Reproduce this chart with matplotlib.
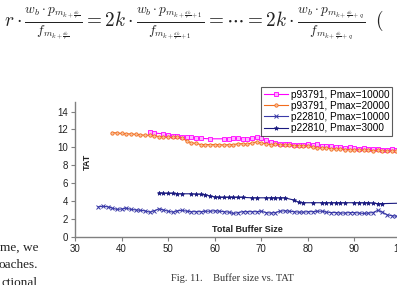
import matplotlib
matplotlib.use("Agg")
import matplotlib.pyplot as plt

# buffer size vs TAT
X_P93791_10000 = [46, 47, 49, 50, 51, 52, 53, 54, 55, 56, 57, 59, 62, 63, 64, 65, 66, 67, 68, 69,
                  70, 71, 72, 73, 74, 75, 76, 77, 78, 79, 80, 81, 82, 83, 84, 85, 86, 87, 88, 89,
                  90, 91, 92, 93, 94, 95, 96, 97, 98, 99, 100]
Y_P93791_10000 = [11.7, 11.6, 11.5, 11.35, 11.3, 11.25, 11.2, 11.1, 11.1, 11.05, 11.0, 10.95, 10.95,
                  10.95, 11.0, 11.0, 10.95, 10.9, 11.0, 11.1, 11.0, 10.8, 10.6, 10.5, 10.4, 10.35,
                  10.35, 10.3, 10.3, 10.3, 10.35, 10.3, 10.35, 10.2, 10.15, 10.1, 10.05, 10.0, 9.95,
                  10.0, 9.9, 9.85, 9.9, 9.85, 9.8, 9.8, 9.75, 9.75, 9.8, 9.75, 9.75]

X_P93791_20000 = list(range(38, 101))
Y_P93791_20000 = [11.65, 11.6, 11.55, 11.5, 11.5, 11.45, 11.4, 11.35, 11.35, 11.3, 11.2, 11.15,
                  11.1, 11.1, 11.1, 11.05, 10.7, 10.5, 10.45, 10.3, 10.3, 10.3, 10.3, 10.3, 10.25,
                  10.3, 10.3, 10.4, 10.4, 10.35, 10.5, 10.6, 10.5, 10.4, 10.3, 10.35, 10.3, 10.25,
                  10.25, 10.2, 10.2, 10.2, 10.1, 10.0, 9.9, 9.95, 9.9, 9.85, 9.8, 9.8, 9.75, 9.75,
                  9.7, 9.7, 9.65, 9.7, 9.6, 9.65, 9.6, 9.55, 9.6, 9.55, 9.55]

X_P22810_10000 = list(range(35, 101))
Y_P22810_10000 = [3.35, 3.4, 3.35, 3.2, 3.05, 3.1, 3.2, 3.05, 3.0, 2.95, 2.9, 2.75, 2.9, 3.1, 3.0,
                  2.85, 2.75, 2.9, 2.95, 2.85, 2.8, 2.8, 2.8, 2.85, 2.85, 2.9, 2.85, 2.8, 2.75, 2.6,
                  2.7, 2.8, 2.8, 2.8, 2.8, 2.85, 2.7, 2.65, 2.7, 2.85, 2.9, 2.85, 2.8, 2.75, 2.75,
                  2.8, 2.8, 2.85, 2.85, 2.75, 2.7, 2.7, 2.65, 2.65, 2.7, 2.7, 2.65, 2.6, 2.65, 2.7,
                  2.95, 2.75, 2.45, 2.35, 2.3, 2.35]

X_P22810_3000 = [48, 49, 50, 51, 52, 53, 55, 56, 57, 58, 59, 60, 61, 62, 63, 64, 65, 66, 68, 69,
                 71, 72, 73, 74, 75, 77, 78, 79, 81, 83, 84, 85, 86, 87, 88, 90, 91, 92, 93, 94,
                 95, 96, 100]
Y_P22810_3000 = [4.9, 4.85, 4.85, 4.85, 4.8, 4.8, 4.8, 4.75, 4.75, 4.7, 4.55, 4.45, 4.4, 4.4, 4.4,
                 4.4, 4.4, 4.4, 4.35, 4.35, 4.35, 4.35, 4.35, 4.35, 4.35, 4.1, 3.85, 3.8, 3.8, 3.8,
                 3.8, 3.8, 3.8, 3.8, 3.8, 3.8, 3.8, 3.8, 3.8, 3.75, 3.7, 3.7, 3.75]

LABELS = ["p93791, Pmax=10000", "p93791, Pmax=20000", "p22810, Pmax=10000", "p22810, Pmax=3000"]
X_TICKS = [30, 40, 50, 60, 70, 80, 90, 100]
Y_TICKS = [0, 2, 4, 6, 8, 10, 12, 14]

W, H = 397, 285
fig = plt.figure(figsize=(W / 100, H / 100), dpi=100)
fig.patch.set_facecolor("white")

# equation line from the paper page above the figure
eq = (r"$r \cdot \frac{w_b \cdot p_{m_{k+\frac{dk}{r}}}}{f_{m_{k+\frac{dk}{r}}}}"
      r" = 2k \cdot \frac{w_b \cdot p_{m_{k+\frac{dk}{r}+1}}}{f_{m_{k+\frac{dk}{r}+1}}}"
      r" = \cdots = 2k \cdot \frac{w_b \cdot p_{m_{k+\frac{dk}{r}+q}}}{f_{m_{k+\frac{dk}{r}+q}}}\;\;($")
plt.rcParams["mathtext.fontset"] = "cm"
fig.text(4 / W, 1 - 24 / H, eq, fontsize=13.8, ha="left", va="center", color="#222222")

ax = fig.add_axes([75 / W, 1 - 236.7 / H, 326 / W, (236.7 - 101.7) / H])
ax.plot(X_P93791_10000, Y_P93791_10000, color="#ff00ff", lw=0.8, marker="s", ms=2.6,
        mfc="#ffb3ff", mec="#ff00ff", mew=0.6, label=LABELS[0])
ax.plot(X_P93791_20000, Y_P93791_20000, color="#f26c1c", lw=0.8, marker="o", ms=2.4,
        mfc="#f9c49f", mec="#f26c1c", mew=0.6, label=LABELS[1])
ax.plot(X_P22810_10000, Y_P22810_10000, color="#3a3aa8", lw=0.8, marker="x", ms=3.0,
        mew=0.7, label=LABELS[2])
ax.plot(X_P22810_3000, Y_P22810_3000, color="#1a1a80", lw=0.8, marker="*", ms=3.2,
        mew=0.5, label=LABELS[3])

ax.set_xlim(30, 100)
ax.set_ylim(0, 15.1)
ax.set_xticks(X_TICKS)
ax.set_yticks(Y_TICKS)
for side in ["top", "right"]:
    ax.spines[side].set_visible(False)
for side in ["left", "bottom"]:
    ax.spines[side].set_color("#808080")
    ax.spines[side].set_linewidth(1.0)
ax.tick_params(axis="both", direction="out", length=3, width=0.8, color="#808080",
               labelsize=7, labelcolor="#222222", pad=2)
for lab in ax.get_xticklabels() + ax.get_yticklabels():
    lab.set_family("Liberation Sans")

ax.text(32.6, 8.35, "TAT", rotation=90, fontsize=6.5, fontweight="bold",
        family="Liberation Sans", ha="center", va="center", color="#222222")
ax.text(67, 0.85, "Total Buffer Size", fontsize=6.5, fontweight="bold",
        family="Liberation Sans", ha="center", va="center", color="#222222")

leg = ax.legend(loc="upper right", bbox_to_anchor=(392 / W, 1 - 87 / H),
                bbox_transform=fig.transFigure, frameon=True, fancybox=False,
                handlelength=2.4, handletextpad=0.3, labelspacing=0.12, borderpad=0.25,
                borderaxespad=0, prop={"family": "Liberation Sans", "size": 7.2})
leg.get_frame().set_edgecolor("#333333")
leg.get_frame().set_linewidth(0.8)

# caption and cut-off body text of the page
fig.text(232 / W, 1 - 278 / H, "Fig. 11.    Buffer size vs. TAT", fontsize=7.5,
         family="Liberation Serif", ha="center", va="center", color="#333333")
for y, s in [(248, "me, we"), (265, "oaches."), (283, "ctional")]:
    fig.text(38 / W, 1 - y / H, s, fontsize=9.5, family="Liberation Serif",
             ha="right", va="center", color="#222222")

fig.savefig("out.png", dpi=100, facecolor="white")
